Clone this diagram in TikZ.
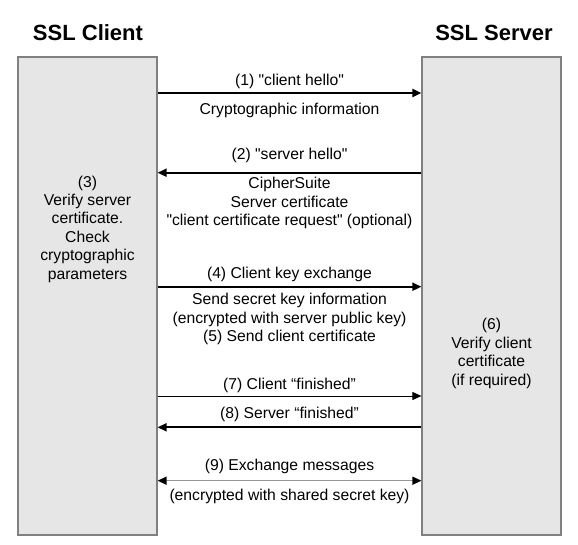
\documentclass[tikz,border=0pt]{standalone}
\usepackage{fontspec}
\setmainfont{Liberation Sans}
\usetikzlibrary{arrows.meta}
\definecolor{boxfill}{RGB}{230,230,230}
\definecolor{boxline}{RGB}{128,128,128}
\definecolor{msggray}{RGB}{150,150,150}

\begin{document}
\begin{tikzpicture}[x=1pt,y=-1pt]
		\tikzstyle{every node}+=[inner sep=0pt, align=center, font=\fontsize{15.7}{18.4}\selectfont]
		\tikzstyle{party}=[draw=boxline, fill=boxfill, line width=1.2pt, minimum width=139pt, minimum height=478pt]
		\tikzstyle{title}=[font=\fontsize{22}{26}\selectfont\bfseries]
		\tikzstyle{msg}=[line width=2pt, -{Triangle[length=9pt,width=8pt]}]
		\tikzstyle{thinmsg}=[line width=1pt, -{Triangle[length=9pt,width=8pt]}]
		\tikzstyle{bothmsg}=[draw=msggray, line width=1.5pt, {Triangle[length=9pt,width=8pt,black]}-{Triangle[length=9pt,width=8pt,black]}]
		\useasboundingbox (0,0) rectangle (578,544);
		% the two parties
		\node [party] (client) at (87.5,296) {};
		\node [party] (server) at (491.5,296) {};
		\node [title] (clienttitle) at (88,33) {SSL Client};
		\node [title] (servertitle) at (494,33) {SSL Server};
		\node (verifyserver) at (87.5,229) {(3)\\Verify server\\certificate.\\Check\\cryptographic\\parameters};
		\node (verifyclient) at (491.5,353.5) {(6)\\Verify client\\certificate\\(if required)};
		% messages
		\draw [msg] (client.east |- 0,93) -- (server.west |- 0,93);
		\node (hello) at (289.5,81) {(1) \textquotedbl client hello\textquotedbl};
		\node (helloinfo) at (289.5,110) {Cryptographic information};
		\draw [msg] (server.west |- 0,172.7) -- (client.east |- 0,172.7);
		\node (shello) at (289.5,155) {(2) \textquotedbl server hello\textquotedbl};
		\node (shelloinfo) at (289.5,203) {CipherSuite\\Server certificate\\\textquotedbl client certificate request\textquotedbl{} (optional)};
		\draw [msg] (client.east |- 0,286.7) -- (server.west |- 0,286.7);
		\node (keyex) at (289.5,274) {(4) Client key exchange};
		\node (keyexinfo) at (289.5,319) {Send secret key information\\(encrypted with server public key)\\(5) Send client certificate};
		\draw [thinmsg] (client.east |- 0,396) -- (server.west |- 0,396);
		\node (cfinished) at (289.5,385.7) {(7) Client “finished”};
		\draw [msg] (server.west |- 0,427.3) -- (client.east |- 0,427.3);
		\node (sfinished) at (289.5,414.3) {(8) Server “finished”};
		\draw [bothmsg] (client.east |- 0,480.7) -- (server.west |- 0,480.7);
		\node (exchange) at (289.5,466.7) {(9) Exchange messages};
		\node (exchangeinfo) at (289.5,496.7) {(encrypted with shared secret key)};
	\end{tikzpicture}
\end{document}
